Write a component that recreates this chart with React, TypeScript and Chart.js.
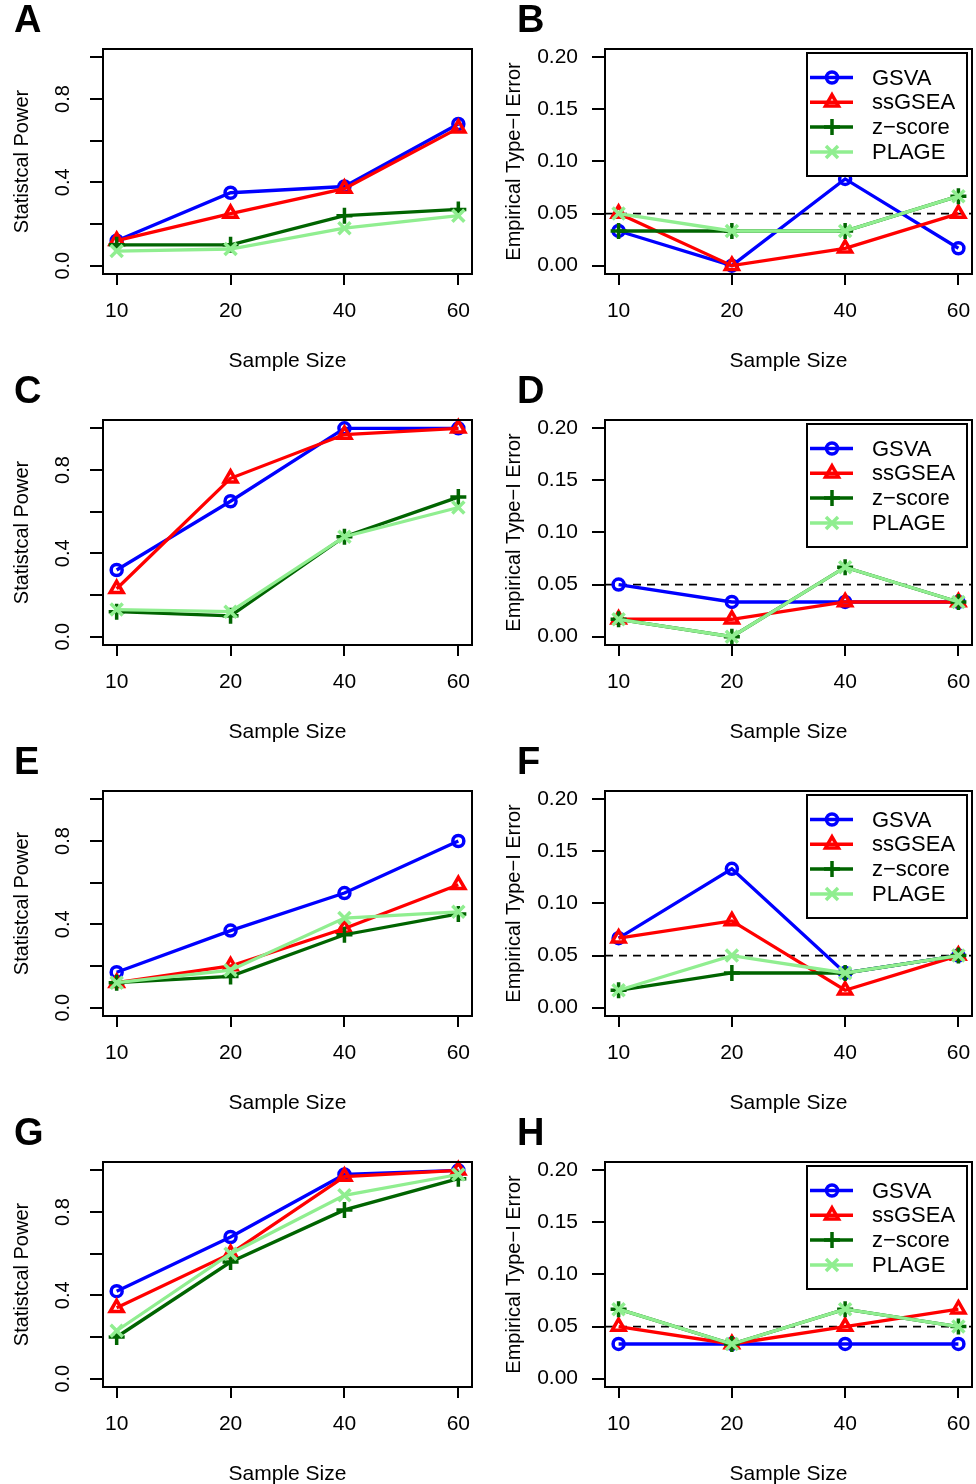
import React, { useEffect, useRef } from 'react';
import { Chart, registerables } from 'chart.js';

Chart.register(...registerables);

const FONT = '"Liberation Sans", Arial, Helvetica, sans-serif';

// ---- axes / categories ----
const sampleSizes = ['10', '20', '40', '60'];
const xPositions = [1, 2, 3, 4];
const xRange = [0.88, 4.12];
const powerTicks = [0, 0.2, 0.4, 0.6, 0.8, 1.0];
const powerTickLabels = ['0.0', '', '0.4', '', '0.8', ''];
const powerRange = [-0.04, 1.04];
const errorTicks = [0, 0.05, 0.1, 0.15, 0.2];
const errorTickLabels = ['0.00', '0.05', '0.10', '0.15', '0.20'];
const errorRange = [-0.008, 0.208];
const alphaLevel = 0.05;

const methodNames = ['GSVA', 'ssGSEA', 'z\u2212score', 'PLAGE'];
const methodColors = ['#0000FF', '#FF0000', '#006400', '#90EE90'];
const methodPointStyles = ['circle', 'triangle', 'cross', 'crossRot'];
const methodPointRadii = [5.5, 7.5, 8, 8.5];

// ---- Panel A (power) ----
const powerA_GSVA = [0.12, 0.35, 0.38, 0.68];
const powerA_ssGSEA = [0.12, 0.25, 0.37, 0.66];
const powerA_zscore = [0.10, 0.10, 0.24, 0.27];
const powerA_PLAGE = [0.07, 0.08, 0.18, 0.24];
// ---- Panel B (type I error) ----
const errorB_GSVA = [0.0333, 0.0, 0.0833, 0.0167];
const errorB_ssGSEA = [0.05, 0.0, 0.0167, 0.05];
const errorB_zscore = [0.0333, 0.0333, 0.0333, 0.0667];
const errorB_PLAGE = [0.05, 0.0333, 0.0333, 0.0667];
// ---- Panel C ----
const powerC_GSVA = [0.32, 0.65, 1.0, 1.0];
const powerC_ssGSEA = [0.23, 0.76, 0.97, 1.0];
const powerC_zscore = [0.12, 0.10, 0.48, 0.67];
const powerC_PLAGE = [0.13, 0.12, 0.48, 0.62];
// ---- Panel D ----
const errorD_GSVA = [0.05, 0.0333, 0.0333, 0.0333];
const errorD_ssGSEA = [0.0167, 0.0167, 0.0333, 0.0333];
const errorD_zscore = [0.0167, 0.0, 0.0667, 0.0333];
const errorD_PLAGE = [0.0167, 0.0, 0.0667, 0.0333];
// ---- Panel E ----
const powerE_GSVA = [0.17, 0.37, 0.55, 0.80];
const powerE_ssGSEA = [0.12, 0.20, 0.38, 0.59];
const powerE_zscore = [0.12, 0.15, 0.35, 0.45];
const powerE_PLAGE = [0.12, 0.18, 0.43, 0.46];
// ---- Panel F ----
const errorF_GSVA = [0.0667, 0.1333, 0.0333, 0.05];
const errorF_ssGSEA = [0.0667, 0.0833, 0.0167, 0.05];
const errorF_zscore = [0.0167, 0.0333, 0.0333, 0.05];
const errorF_PLAGE = [0.0167, 0.05, 0.0333, 0.05];
// ---- Panel G ----
const powerG_GSVA = [0.42, 0.68, 0.98, 1.0];
const powerG_ssGSEA = [0.34, 0.60, 0.97, 1.0];
const powerG_zscore = [0.20, 0.56, 0.81, 0.96];
const powerG_PLAGE = [0.23, 0.60, 0.88, 0.98];
// ---- Panel H ----
const errorH_GSVA = [0.0333, 0.0333, 0.0333, 0.0333];
const errorH_ssGSEA = [0.05, 0.0333, 0.05, 0.0667];
const errorH_zscore = [0.0667, 0.0333, 0.0667, 0.05];
const errorH_PLAGE = [0.0667, 0.0333, 0.0667, 0.05];

type Kind = 'power' | 'error';
type PanelSpec = { letter: string; kind: Kind; series: number[][]; col: number; row: number };

const panels: PanelSpec[] = [
  { letter: 'A', kind: 'power', series: [powerA_GSVA, powerA_ssGSEA, powerA_zscore, powerA_PLAGE], col: 0, row: 0 },
  { letter: 'B', kind: 'error', series: [errorB_GSVA, errorB_ssGSEA, errorB_zscore, errorB_PLAGE], col: 1, row: 0 },
  { letter: 'C', kind: 'power', series: [powerC_GSVA, powerC_ssGSEA, powerC_zscore, powerC_PLAGE], col: 0, row: 1 },
  { letter: 'D', kind: 'error', series: [errorD_GSVA, errorD_ssGSEA, errorD_zscore, errorD_PLAGE], col: 1, row: 1 },
  { letter: 'E', kind: 'power', series: [powerE_GSVA, powerE_ssGSEA, powerE_zscore, powerE_PLAGE], col: 0, row: 2 },
  { letter: 'F', kind: 'error', series: [errorF_GSVA, errorF_ssGSEA, errorF_zscore, errorF_PLAGE], col: 1, row: 2 },
  { letter: 'G', kind: 'power', series: [powerG_GSVA, powerG_ssGSEA, powerG_zscore, powerG_PLAGE], col: 0, row: 3 },
  { letter: 'H', kind: 'error', series: [errorH_GSVA, errorH_ssGSEA, errorH_zscore, errorH_PLAGE], col: 1, row: 3 },
];

const PANEL_W = 488;
const PANEL_H = 371;

function drawMarker(ctx: CanvasRenderingContext2D, style: string, x: number, y: number, r: number) {
  ctx.beginPath();
  if (style === 'circle') {
    ctx.arc(x, y, r, 0, Math.PI * 2);
  } else if (style === 'triangle') {
    ctx.moveTo(x, y - r);
    ctx.lineTo(x + r * Math.sin((2 * Math.PI) / 3), y - r * Math.cos((2 * Math.PI) / 3));
    ctx.lineTo(x + r * Math.sin((4 * Math.PI) / 3), y - r * Math.cos((4 * Math.PI) / 3));
    ctx.closePath();
  } else if (style === 'cross') {
    ctx.moveTo(x, y - r);
    ctx.lineTo(x, y + r);
    ctx.moveTo(x - r, y);
    ctx.lineTo(x + r, y);
  } else {
    const d = r * Math.cos(Math.PI / 4);
    ctx.moveTo(x - d, y - d);
    ctx.lineTo(x + d, y + d);
    ctx.moveTo(x - d, y + d);
    ctx.lineTo(x + d, y - d);
  }
  ctx.stroke();
}

function Panel({ spec }: { spec: PanelSpec }) {
  const ref = useRef<HTMLCanvasElement | null>(null);

  useEffect(() => {
    const canvas = ref.current;
    if (!canvas) return;
    const isPower = spec.kind === 'power';
    const yWidth = isPower ? 103 : 117;
    const padRight = isPower ? 16 : 4;

    const seriesSets: any[] = spec.series.map((vals, i) => ({
      label: methodNames[i],
      data: vals.map((v, j) => ({ x: xPositions[j], y: v })),
      borderColor: methodColors[i],
      backgroundColor: methodColors[i],
      borderWidth: 3.3,
      pointStyle: methodPointStyles[i],
      pointRadius: methodPointRadii[i],
      pointHoverRadius: methodPointRadii[i],
      pointBorderWidth: 3.5,
      pointBorderColor: methodColors[i],
      pointBackgroundColor: 'rgba(0,0,0,0)',
      tension: 0,
      order: 4 - i,
      clip: false,
    }));

    if (!isPower) {
      seriesSets.push({
        label: 'alpha',
        data: [
          { x: xRange[0], y: alphaLevel },
          { x: xRange[1], y: alphaLevel },
        ],
        borderColor: '#000',
        borderWidth: 1.8,
        borderDash: [8, 6],
        pointRadius: 0,
        pointHoverRadius: 0,
        order: 10,
        clip: false,
      });
    }

    const zeroPadding = (s: any) => {
      s.paddingLeft = 0;
      s.paddingRight = 0;
      s.paddingTop = 0;
      s.paddingBottom = 0;
    };

    const extras = {
      id: 'extras' + spec.letter,
      afterDatasetsDraw(chart: any) {
        const { ctx, chartArea: a } = chart;
        ctx.save();
        ctx.strokeStyle = '#000';
        ctx.lineWidth = 2;
        ctx.strokeRect(a.left, a.top, a.right - a.left, a.bottom - a.top);
        if (!isPower) {
          const bw = 160;
          const bh = 123;
          const bx = a.right - 5 - bw;
          const by = a.top + 4;
          ctx.fillStyle = '#fff';
          ctx.fillRect(bx, by, bw, bh);
          ctx.strokeRect(bx, by, bw, bh);
          ctx.font = '22px ' + FONT;
          ctx.textBaseline = 'middle';
          ctx.textAlign = 'left';
          methodNames.forEach((name, i) => {
            const y = by + 24.5 + i * 24.8;
            ctx.strokeStyle = methodColors[i];
            ctx.lineWidth = 3.5;
            ctx.beginPath();
            ctx.moveTo(bx + 3, y);
            ctx.lineTo(bx + 46, y);
            ctx.stroke();
            ctx.lineWidth = 3.5;
            drawMarker(ctx, methodPointStyles[i], bx + 25, y, methodPointRadii[i]);
            ctx.fillStyle = '#000';
            ctx.fillText(name, bx + 65, y + 1);
          });
        }
        ctx.restore();
      },
      afterDraw(chart: any) {
        const { ctx } = chart;
        ctx.save();
        ctx.fillStyle = '#000';
        ctx.font = 'bold 38px ' + FONT;
        ctx.textBaseline = 'alphabetic';
        ctx.textAlign = 'left';
        ctx.fillText(spec.letter, isPower ? 14 : 29, 32);
        ctx.restore();
      },
    };

    const chart = new Chart(canvas, {
      type: 'line',
      data: { datasets: seriesSets },
      plugins: [extras],
      options: {
        animation: false,
        responsive: false,
        devicePixelRatio: 1,
        events: [],
        layout: { autoPadding: false, padding: { left: 0, top: 49, right: padRight, bottom: 0 } },
        plugins: { legend: { display: false }, tooltip: { enabled: false } },
        scales: {
          x: {
            type: 'linear',
            min: xRange[0],
            max: xRange[1],
            afterBuildTicks: (s: any) => {
              s.ticks = xPositions.map((v) => ({ value: v }));
            },
            afterFit: (s: any) => {
              s.height = 97;
              zeroPadding(s);
            },
            ticks: {
              autoSkip: false,
              maxRotation: 0,
              minRotation: 0,
              padding: 14,
              color: '#000',
              font: { family: FONT, size: 21 },
              callback: (_v: any, i: number) => sampleSizes[i],
            },
            grid: {
              display: true,
              drawOnChartArea: false,
              drawTicks: true,
              tickLength: 11,
              color: '#000',
              lineWidth: 2,
            },
            border: { display: false },
            title: {
              display: true,
              text: 'Sample Size',
              color: '#000',
              font: { family: FONT, size: 21, lineHeight: 1 },
              padding: { top: 0, bottom: -1 },
            },
          },
          y: {
            type: 'linear',
            min: isPower ? powerRange[0] : errorRange[0],
            max: isPower ? powerRange[1] : errorRange[1],
            afterBuildTicks: (s: any) => {
              s.ticks = (isPower ? powerTicks : errorTicks).map((v) => ({ value: v }));
            },
            afterFit: (s: any) => {
              s.width = yWidth;
              zeroPadding(s);
            },
            ticks: isPower
              ? {
                  autoSkip: false,
                  minRotation: 90,
                  maxRotation: 90,
                  crossAlign: 'center',
                  padding: 13,
                  color: '#000',
                  font: { family: FONT, size: 20 },
                  callback: (_v: any, i: number) => powerTickLabels[i],
                }
              : {
                  autoSkip: false,
                  padding: 14,
                  color: '#000',
                  font: { family: FONT, size: 21 },
                  callback: (_v: any, i: number) => errorTickLabels[i],
                },
            grid: {
              display: true,
              drawOnChartArea: false,
              drawTicks: true,
              tickLength: 13,
              color: '#000',
              lineWidth: 2,
            },
            border: { display: false },
            title: {
              display: true,
              text: isPower ? 'Statistcal Power' : 'Empirical Type\u2212I Error',
              color: '#000',
              font: { family: FONT, size: 20, lineHeight: 1 },
              padding: { top: isPower ? 12 : 16, bottom: 0 },
            },
          },
        },
      } as any,
    });

    return () => {
      chart.destroy();
    };
  }, [spec]);

  return (
    <canvas
      ref={ref}
      width={PANEL_W}
      height={PANEL_H}
      style={{
        position: 'absolute',
        left: spec.col * PANEL_W,
        top: spec.row * PANEL_H,
        width: PANEL_W,
        height: PANEL_H,
        display: 'block',
      }}
    />
  );
}

export default function App() {
  return (
    <div
      style={{
        position: 'absolute',
        left: 0,
        top: 0,
        width: 976,
        height: 1484,
        background: '#fff',
        overflow: 'hidden',
      }}
    >
      {panels.map((p) => (
        <Panel key={p.letter} spec={p} />
      ))}
    </div>
  );
}
